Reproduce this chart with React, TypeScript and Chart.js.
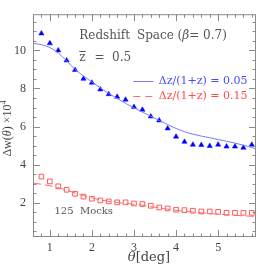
import React, { useEffect, useRef } from 'react';
import { Chart, registerables } from 'chart.js';
Chart.register(...registerables);

// measured points (theta in deg)
const thetaPts = [0.8, 1.0, 1.2, 1.4, 1.6, 1.8, 2.0, 2.2, 2.4, 2.6, 2.8, 3.0, 3.2, 3.4, 3.6, 3.8, 4.0, 4.2, 4.4, 4.6, 4.8, 5.0, 5.2, 5.4, 5.6, 5.8];
const blueTri = [10.89, 10.37, 10.0, 9.47, 8.97, 8.51, 8.3, 7.95, 7.7, 7.56, 7.41, 7.03, 6.88, 6.53, 6.32, 5.9, 5.47, 5.2, 5.05, 5.03, 4.98, 5.05, 4.95, 4.95, 4.89, 5.04];
const redSq = [3.37, 3.12, 2.86, 2.68, 2.47, 2.32, 2.21, 2.12, 2.07, 2.02, 2.02, 1.96, 1.93, 1.84, 1.75, 1.7, 1.63, 1.61, 1.58, 1.54, 1.54, 1.52, 1.47, 1.47, 1.47, 1.47];

// model curves
const thetaModel = [0.6, 0.8, 1.0, 1.2, 1.4, 1.6, 1.8, 2.0, 2.2, 2.4, 2.6, 2.8, 3.0, 3.2, 3.4, 3.6, 3.8, 4.0, 4.2, 4.4, 4.6, 4.8, 5.0, 5.2, 5.4, 5.6, 5.8, 5.9];
const blueModel = [10.37, 10.3, 10.15, 9.86, 9.45, 9.0, 8.65, 8.34, 8.03, 7.74, 7.47, 7.22, 6.98, 6.76, 6.54, 6.32, 6.1, 5.9, 5.73, 5.6, 5.5, 5.41, 5.32, 5.23, 5.13, 5.02, 4.9, 4.82];
const redModel = [3.03, 2.97, 2.89, 2.79, 2.66, 2.51, 2.37, 2.25, 2.15, 2.07, 2.01, 1.96, 1.92, 1.87, 1.8, 1.73, 1.66, 1.6, 1.55, 1.51, 1.47, 1.43, 1.4, 1.37, 1.34, 1.31, 1.29, 1.28];

const xTicks = [1, 2, 3, 4, 5];
const yTicks = [2, 4, 6, 8, 10];
const xRange = [0.6, 5.9];
const yRange = [0.2, 11.9];

const AXIS = '#8a8a8a';
const TXT = '#555555';

const framePlugin = {
  id: 'frameTicks',
  afterDatasetsDraw(chart: any) {
    const ctx = chart.ctx;
    const a = chart.chartArea;
    const xs = chart.scales.x;
    const ys = chart.scales.y;
    ctx.save();
    ctx.strokeStyle = AXIS;
    ctx.lineWidth = 1;
    ctx.strokeRect(a.left + 0.5, a.top + 0.5, a.right - a.left - 1, a.bottom - a.top - 1);
    ctx.beginPath();
    for (let v = 0.6; v <= 5.9001; v += 0.2) {
      const r = Math.round(v * 10) / 10;
      const major = Math.abs(r - Math.round(r)) < 1e-6;
      const L = major ? 7 : 3.5;
      const px = Math.round(xs.getPixelForValue(r)) + 0.5;
      ctx.moveTo(px, a.bottom); ctx.lineTo(px, a.bottom - L);
      ctx.moveTo(px, a.top); ctx.lineTo(px, a.top + L);
    }
    for (let v = 0.5; v <= 11.9; v += 0.5) {
      const major = Math.abs(v / 2 - Math.round(v / 2)) < 1e-6;
      const L = major ? 7 : 3.5;
      const py = Math.round(ys.getPixelForValue(v)) + 0.5;
      ctx.moveTo(a.left, py); ctx.lineTo(a.left + L, py);
      ctx.moveTo(a.right, py); ctx.lineTo(a.right - L, py);
    }
    ctx.stroke();

    const X = (t: number) => xs.getPixelForValue(t);
    const Y = (v: number) => ys.getPixelForValue(v);
    ctx.textBaseline = 'middle';
    ctx.textAlign = 'left';

    // Title
    ctx.fillStyle = TXT;
    ctx.font = '12px "DejaVu Serif"';
    ctx.fillText('Redshift', X(1.7), Y(10.74));
    let cx = X(3.07);
    ctx.fillText('Space (', cx, Y(10.74));
    cx += ctx.measureText('Space (').width;
    ctx.font = 'italic 12px "DejaVu Serif"';
    ctx.fillText('\u03b2', cx, Y(10.74));
    cx += ctx.measureText('\u03b2').width;
    ctx.font = '12px "DejaVu Serif"';
    ctx.fillText('= 0.7)', cx, Y(10.74));

    // z-bar line
    ctx.fillText('z', X(1.7), Y(9.6));
    const zw = ctx.measureText('z').width;
    ctx.beginPath();
    ctx.moveTo(X(1.7), Math.round(Y(9.6)) - 6.5);
    ctx.lineTo(X(1.7) + zw, Math.round(Y(9.6)) - 6.5);
    ctx.strokeStyle = TXT;
    ctx.stroke();
    ctx.fillText('=  0.5', X(2.06), Y(9.6));

    // legend
    ctx.lineWidth = 1;
    ctx.strokeStyle = '#7b7bff';
    ctx.beginPath();
    ctx.moveTo(X(2.984), Math.round(Y(8.38)) + 0.5);
    ctx.lineTo(X(3.458), Math.round(Y(8.38)) + 0.5);
    ctx.stroke();
    ctx.font = '11px "DejaVu Serif"';
    ctx.fillStyle = '#4a4aff';
    ctx.fillText('\u0394z/(1+z) = 0.05', X(3.59), Y(8.38));

    ctx.strokeStyle = '#ff6b6b';
    ctx.setLineDash([7, 5]);
    ctx.beginPath();
    ctx.moveTo(X(2.984), Math.round(Y(7.62)) + 0.5);
    ctx.lineTo(X(3.458), Math.round(Y(7.62)) + 0.5);
    ctx.stroke();
    ctx.setLineDash([]);
    ctx.fillStyle = '#ff4a4a';
    ctx.fillText('\u0394z/(1+z) = 0.15', X(3.59), Y(7.62));

    ctx.fillStyle = TXT;
    ctx.font = '10px "DejaVu Serif"';
    ctx.fillText('125  Mocks', X(1.11), Y(1.54));

    // axis titles
    ctx.fillStyle = '#444';
    const p1 = '\u03b8';
    const p2 = '[deg]';
    ctx.font = 'italic 13px "DejaVu Serif"';
    const w1 = ctx.measureText(p1).width;
    ctx.font = '13px "DejaVu Serif"';
    const w2 = ctx.measureText(p2).width;
    const sx = (a.left + a.right) / 2 + 4.5 - (w1 + w2) / 2;
    ctx.font = 'italic 13px "DejaVu Serif"';
    ctx.fillText(p1, sx, 258);
    ctx.font = '13px "DejaVu Serif"';
    ctx.fillText(p2, sx + w1, 258);

    ctx.translate(7.5, (a.top + a.bottom) / 2 + 3);
    ctx.rotate(-Math.PI / 2);
    const parts: [string, string, number][] = [
      ['\u0394w(', '12px "Liberation Serif"', 0],
      ['\u03b8', 'italic 12px "Liberation Serif"', 0],
      [') \u00d710', '12px "Liberation Serif"', 0],
      ['4', '8px "Liberation Serif"', -4],
    ];
    let tw = 0;
    for (const p of parts) { ctx.font = p[1]; tw += ctx.measureText(p[0]).width; }
    let px = -tw / 2;
    for (const p of parts) {
      ctx.font = p[1];
      ctx.fillText(p[0], px, p[2]);
      px += ctx.measureText(p[0]).width;
    }
    ctx.restore();
  },
};

export default function App() {
  const ref = useRef<HTMLCanvasElement>(null);
  useEffect(() => {
    const canvas = ref.current!;
    const chart = new Chart(canvas, {
      type: 'scatter',
      data: {
        datasets: [
          {
            data: thetaModel.map((t, i) => ({ x: t, y: blueModel[i] })),
            showLine: true,
            borderColor: '#7b7bff',
            borderWidth: 1,
            pointRadius: 0,
            cubicInterpolationMode: 'monotone',
          } as any,
          {
            data: thetaModel.map((t, i) => ({ x: t, y: redModel[i] })),
            showLine: true,
            borderColor: '#ff6b6b',
            borderWidth: 1,
            borderDash: [8, 4],
            pointRadius: 0,
            cubicInterpolationMode: 'monotone',
          } as any,
          {
            data: thetaPts.map((t, i) => ({ x: t, y: blueTri[i] })),
            showLine: false,
            pointStyle: 'triangle',
            pointRadius: 3,
            backgroundColor: '#0000ff',
            borderColor: '#0000ff',
            borderWidth: 0.5,
          },
          {
            data: thetaPts.map((t, i) => ({ x: t, y: redSq[i] })),
            showLine: false,
            pointStyle: 'rect',
            pointRadius: 3.3,
            backgroundColor: 'rgba(0,0,0,0)',
            borderColor: '#ff5a5a',
            borderWidth: 1,
          },
        ],
      },
      options: {
        animation: false,
        responsive: false,
        events: [],
        layout: { padding: { left: 0, top: 14, right: 10, bottom: 0 } },
        plugins: { legend: { display: false }, tooltip: { enabled: false } },
        scales: {
          x: {
            type: 'linear',
            min: xRange[0],
            max: xRange[1],
            grid: { display: false, drawTicks: false },
            border: { display: false },
            afterBuildTicks: (s: any) => { s.ticks = xTicks.map((v) => ({ value: v })); },
            afterFit: (s: any) => { s.height = 29; },
            ticks: {
              color: '#444',
              font: { family: 'Liberation Serif', size: 12 },
              padding: 4,
              maxRotation: 0,
              autoSkip: false,
              callback: (v: any) => String(v),
            },
          },
          y: {
            type: 'linear',
            min: yRange[0],
            max: yRange[1],
            grid: { display: false, drawTicks: false },
            border: { display: false },
            afterBuildTicks: (s: any) => { s.ticks = yTicks.map((v) => ({ value: v })); },
            afterFit: (s: any) => { s.width = 33; },
            ticks: {
              color: '#444',
              font: { family: 'Liberation Serif', size: 12 },
              padding: 7,
              autoSkip: false,
              callback: (v: any) => String(v),
            },
          },
        },
      },
      plugins: [framePlugin],
    });
    return () => chart.destroy();
  }, []);
  return (
    <div style={{ position: 'absolute', left: 0, top: 0, width: 266, height: 266, background: '#fff' }}>
      <canvas ref={ref} width={266} height={266} style={{ width: 266, height: 266 }} />
    </div>
  );
}
